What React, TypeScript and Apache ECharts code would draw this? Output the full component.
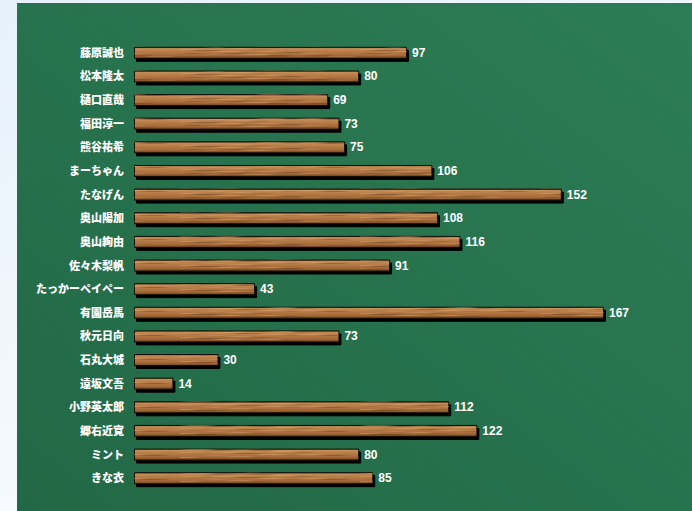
import React, { useEffect, useRef } from 'react';
import * as echarts from 'echarts';

const names = [
  '藤原誠也', '松本隆太', '樋口直哉', '福田淳一', '熊谷祐希', 'まーちゃん', 'たなげん',
  '奥山陽加', '奥山絢由', '佐々木梨帆', 'たっかーペイペー', '有園岳馬', '秋元日向',
  '石丸大城', '遠坂文吾', '小野英太郎', '郷右近寛', 'ミント', 'きな衣',
];
const values = [97, 80, 69, 73, 75, 106, 152, 108, 116, 91, 43, 167, 73, 30, 14, 112, 122, 80, 85];

function makeGrain(): HTMLCanvasElement {
  const w = 180;
  const h = 24;
  const c = document.createElement('canvas');
  c.width = w;
  c.height = h;
  const ctx = c.getContext('2d')!;
  for (let y = 0; y < h; y++) {
    for (let x = 0; x < w; x++) {
      const n =
        Math.sin(x * 0.035 + y * 1.9) +
        Math.sin(x * 0.13 + y * 0.7) * 0.6 +
        Math.sin(y * 2.3 + x * 0.01) * 0.8;
      if (n > 0.9) {
        ctx.fillStyle = `rgba(225,175,120,${Math.min(0.4, (n - 0.9) * 0.35)})`;
        ctx.fillRect(x, y, 1, 1);
      } else if (n < -0.9) {
        ctx.fillStyle = `rgba(70,35,12,${Math.min(0.3, (-n - 0.9) * 0.25)})`;
        ctx.fillRect(x, y, 1, 1);
      }
    }
  }
  return c;
}

export default function App() {
  const ref = useRef<HTMLDivElement>(null);
  useEffect(() => {
    if (!ref.current) return;
    const chart = echarts.init(ref.current, null, { renderer: 'svg' });
    const grain = makeGrain();
    chart.setOption({
      animation: false,
      backgroundColor: 'transparent',
      graphic: [
        {
          type: 'rect',
          z: -10,
          silent: true,
          shape: { x: 17, y: 3, width: 675, height: 508 },
          style: {
            fill: new echarts.graphic.LinearGradient(0, 1, 1, 0, [
              { offset: 0, color: '#226846' },
              { offset: 1, color: '#2c7d56' },
            ]),
          },
        },
      ],
      grid: { left: 134, top: 40, width: 470, height: 449, containLabel: false },
      xAxis: {
        type: 'value',
        min: 0,
        max: 167,
        show: false,
        splitLine: { show: false },
      },
      yAxis: {
        type: 'category',
        data: names,
        inverse: true,
        axisLine: { show: false },
        axisTick: { show: false },
        axisLabel: {
          color: '#ffffff',
          fontWeight: 900,
          fontSize: 11,
          fontFamily: '"Noto Sans CJK JP", sans-serif',
          margin: 10,
        },
      },
      series: [
        {
          type: 'bar',
          data: values,
          barWidth: 12,
          itemStyle: {
            color: new echarts.graphic.LinearGradient(0, 0, 0, 1, [
              { offset: 0, color: '#6a3f1e' },
              { offset: 0.12, color: '#c68d58' },
              { offset: 0.4, color: '#b67b47' },
              { offset: 0.75, color: '#a46937' },
              { offset: 1, color: '#704320' },
            ]),
            borderColor: '#141008',
            borderWidth: 1,
            shadowColor: '#000000',
            shadowOffsetX: 2,
            shadowOffsetY: 3,
            shadowBlur: 0,
          },
          label: {
            show: true,
            position: 'right',
            distance: 5,
            color: '#ffffff',
            fontWeight: 'bold',
            fontSize: 12,
            fontFamily: '"Liberation Sans", Arial, sans-serif',
          },
        },
        {
          type: 'bar',
          data: values,
          barWidth: 10,
          barGap: '-100%',
          silent: true,
          itemStyle: {
            color: { image: grain, repeat: 'repeat' },
          },
          label: { show: false },
        },
      ],
    });
    return () => chart.dispose();
  }, []);
  return (
    <div
      style={{
        position: 'fixed',
        left: 0,
        top: 0,
        width: 692,
        height: 511,
        background: 'linear-gradient(160deg, #e6f1fb 0%, #f4f9fd 60%, #fbfdff 100%)',
      }}
    >
      <div ref={ref} style={{ width: 692, height: 511 }} />
    </div>
  );
}
